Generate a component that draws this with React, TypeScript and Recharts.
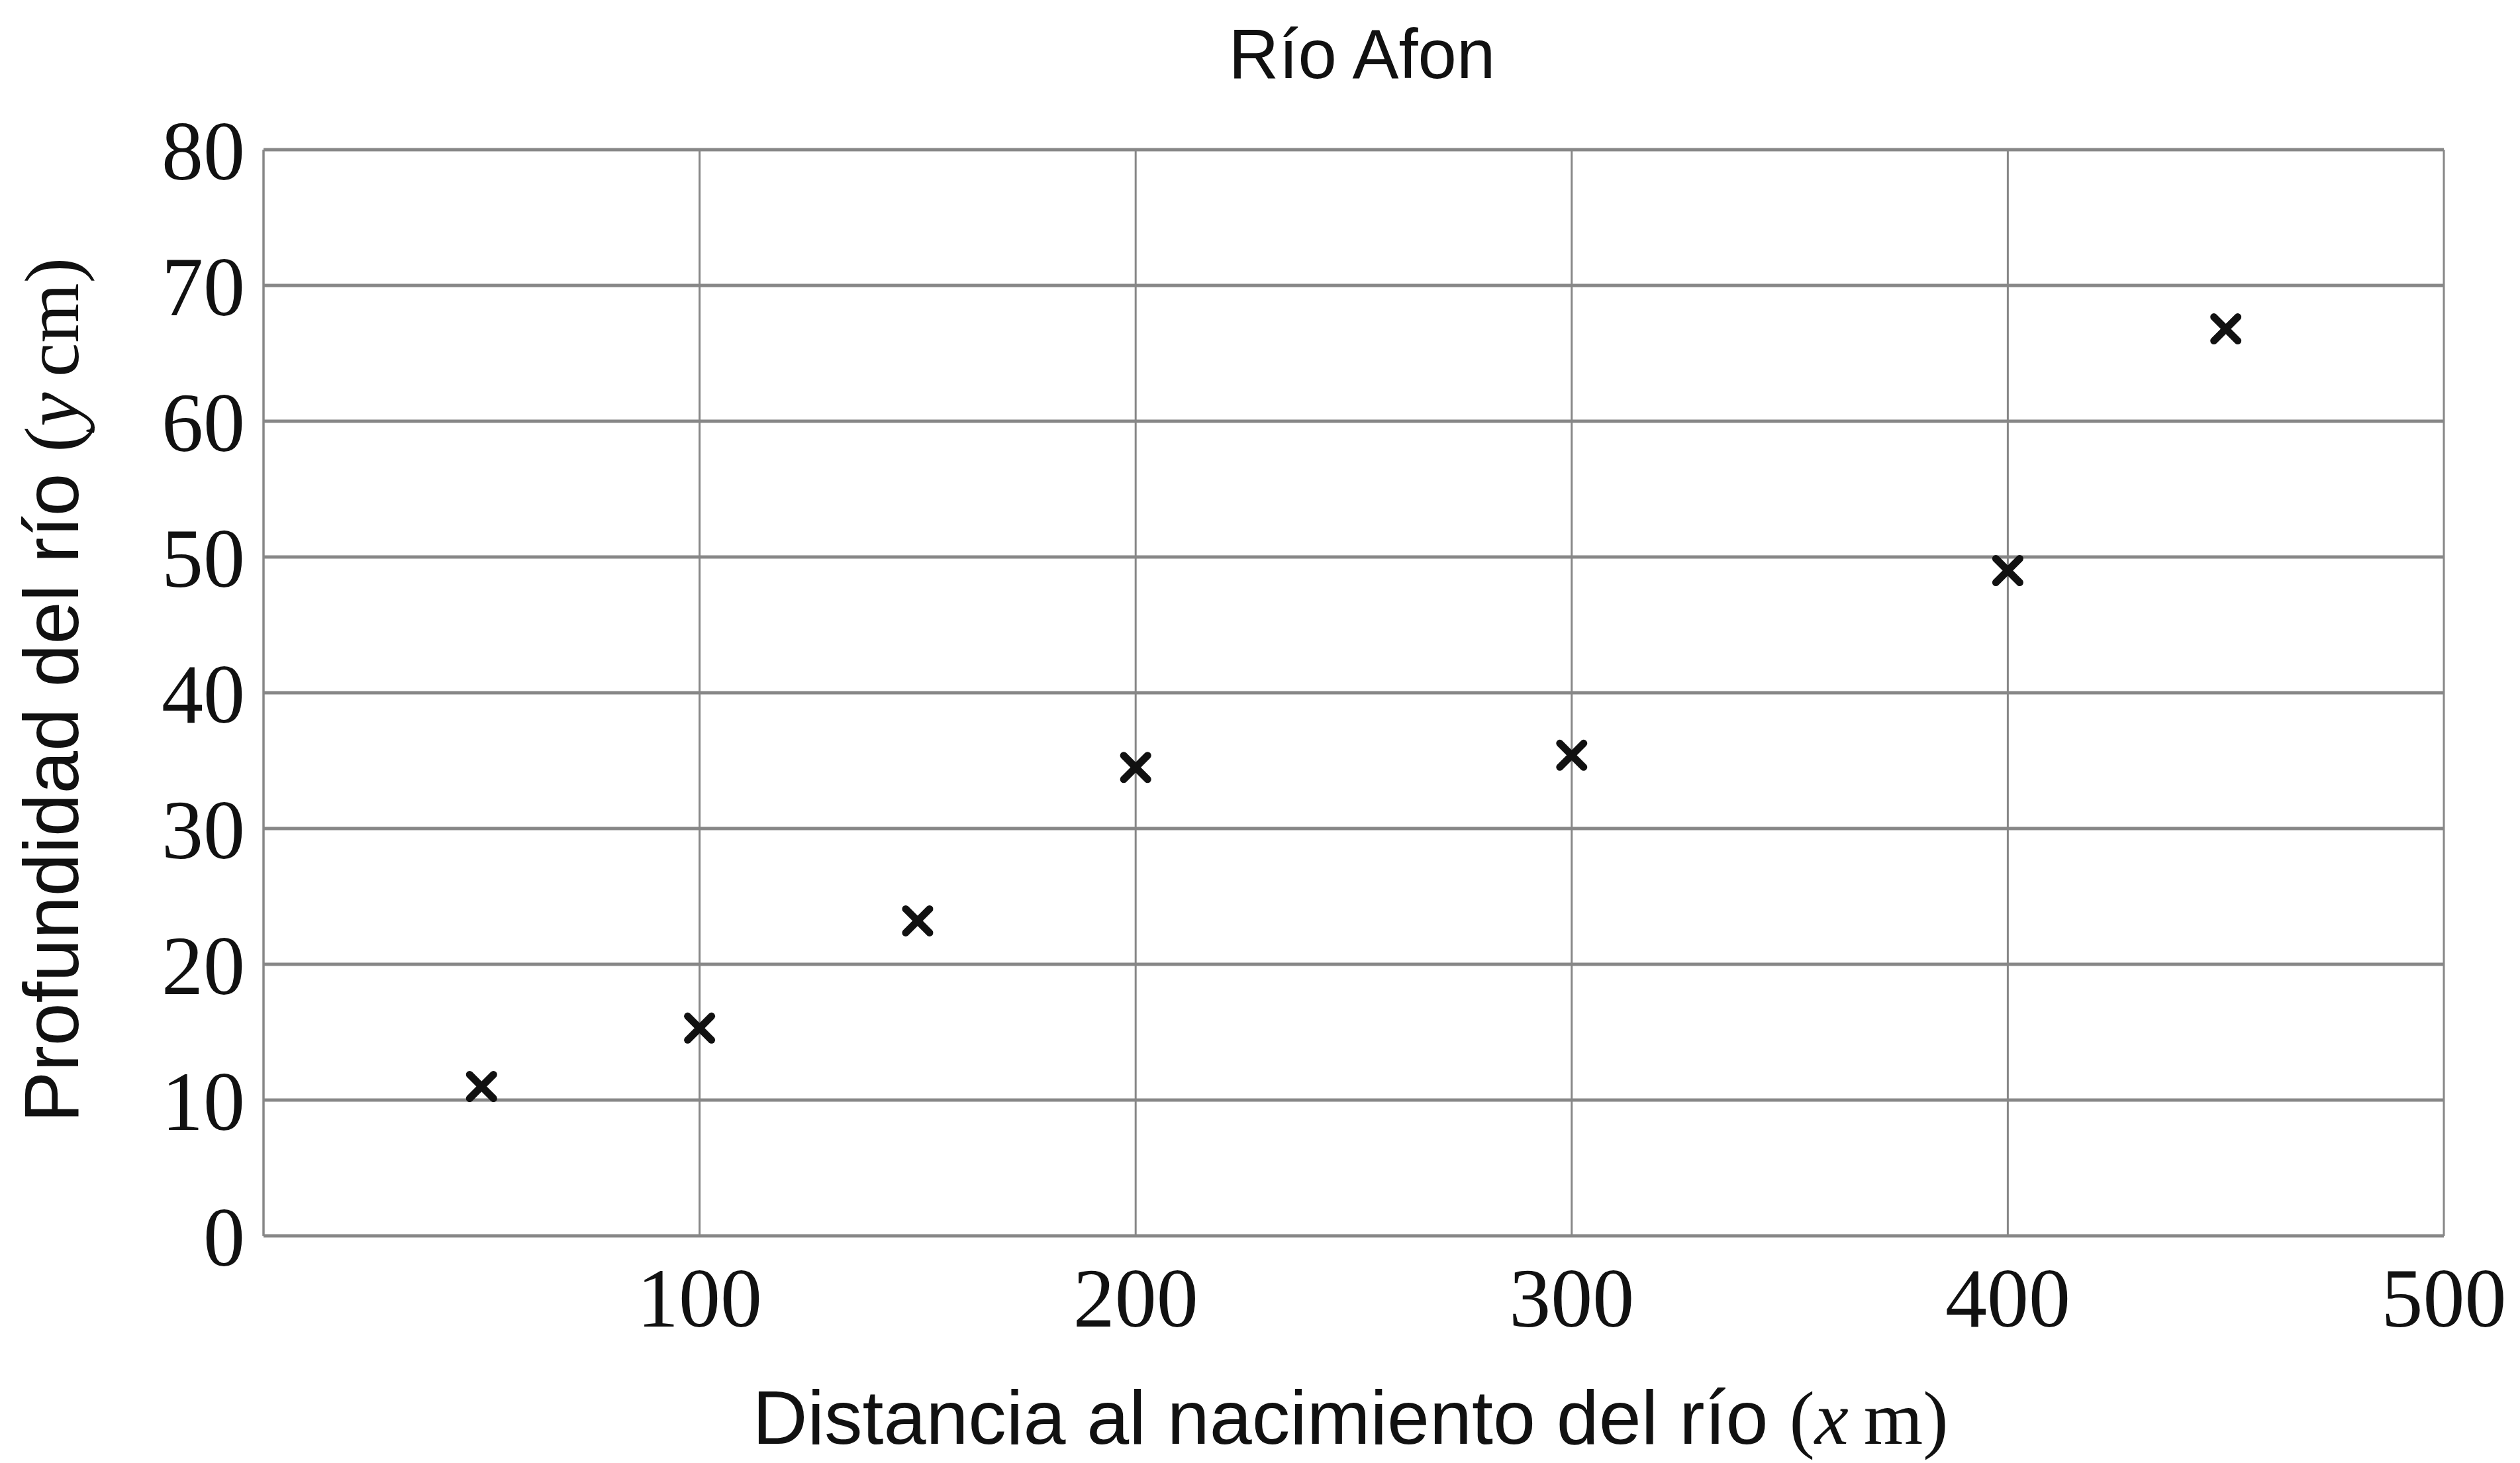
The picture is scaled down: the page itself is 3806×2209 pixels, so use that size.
import React from 'react';
import { ScatterChart, Scatter, XAxis, YAxis, CartesianGrid, Label } from 'recharts';

// distance from source (m) and depth (cm)
const distances = [50, 100, 150, 200, 300, 400, 450];
const depths = [11, 15.3, 23.2, 34.5, 35.4, 49, 66.8];

const xTicks = [100, 200, 300, 400, 500];
const yTicks = [0, 10, 20, 30, 40, 50, 60, 70, 80];

const title = 'Río Afon';
const xLabelText = 'Distancia al nacimiento del río ';
const yLabelText = 'Profundidad del río ';

const GRID = '#878787';
const INK = '#111';
const SANS = '"Liberation Sans", Arial, sans-serif';
const SERIF = '"Liberation Serif", "Times New Roman", serif';

const points = distances.map((x, i) => ({ x, y: depths[i] }));

function Cross(props: any) {
  const { cx, cy } = props;
  const r = 18;
  return (
    <g stroke={INK} strokeWidth={11} strokeLinecap="round">
      <line x1={cx - r} y1={cy - r} x2={cx + r} y2={cy + r} />
      <line x1={cx - r} y1={cy + r} x2={cx + r} y2={cy - r} />
    </g>
  );
}

function XTitle(props: any) {
  const vb = props.viewBox;
  return (
    <text x={vb.x + vb.width / 2 - 5} y={vb.y + 314} textAnchor="middle" fontSize={115} fill={INK}>
      <tspan fontFamily={SANS}>{xLabelText}</tspan>
      <tspan fontFamily={SERIF}>(</tspan>
      <tspan fontFamily={SERIF} fontStyle="italic">x</tspan>
      <tspan fontFamily={SERIF}>{'\u2009m)'}</tspan>
    </text>
  );
}

function YTitle() {
  const x = 118;
  const y = 1042;
  return (
    <text x={x} y={y} transform={`rotate(-90, ${x}, ${y})`} textAnchor="middle" fontSize={116} fill={INK}>
      <tspan fontFamily={SANS}>{yLabelText}</tspan>
      <tspan fontFamily={SERIF}>(</tspan>
      <tspan fontFamily={SERIF} fontStyle="italic">y</tspan>
      <tspan fontFamily={SERIF}>{'\u2009cm)'}</tspan>
    </text>
  );
}

export default function App() {
  return (
    <div style={{ position: 'absolute', left: 0, top: 0, width: 3806, height: 2209, background: '#fff' }}>
      <div
        style={{
          position: 'absolute',
          left: 0,
          width: 3806,
          top: 22,
          textAlign: 'center',
          paddingLeft: 308,
          boxSizing: 'border-box',
          fontFamily: SANS,
          fontSize: 105,
          lineHeight: '120px',
          color: INK,
        }}
      >
        {title}
      </div>
      <ScatterChart width={3806} height={2209} margin={{ top: 226, right: 115, bottom: 0, left: 0 }}>
        <CartesianGrid horizontal={false} stroke={GRID} strokeWidth={3} />
        <CartesianGrid vertical={false} stroke={GRID} strokeWidth={5} />
        <XAxis
          type="number"
          dataKey="x"
          domain={[0, 500]}
          ticks={xTicks}
          height={343}
          axisLine={false}
          tickLine={false}
          tickSize={0}
          tickMargin={48}
          tick={{ fontFamily: SERIF, fontSize: 126, fill: INK }}
        >
          <Label content={XTitle} />
        </XAxis>
        <YAxis
          type="number"
          dataKey="y"
          domain={[0, 80]}
          ticks={yTicks}
          width={398}
          axisLine={{ stroke: GRID, strokeWidth: 3 }}
          tickLine={false}
          tickSize={0}
          tickMargin={28}
          tick={{ fontFamily: SERIF, fontSize: 126, fill: INK }}
        >
          <Label content={YTitle} />
        </YAxis>
        <Scatter data={points} shape={Cross} isAnimationActive={false} />
      </ScatterChart>
    </div>
  );
}
